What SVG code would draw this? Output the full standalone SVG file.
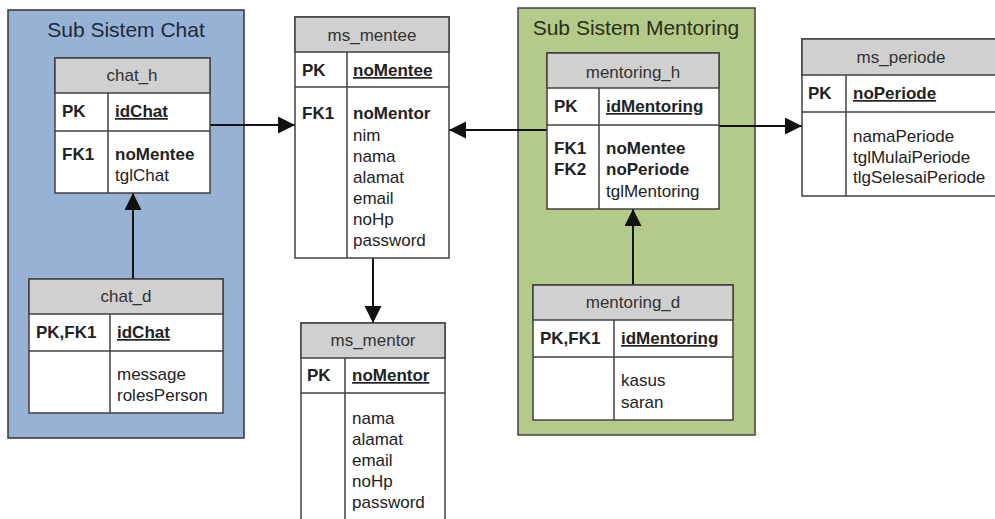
<svg xmlns="http://www.w3.org/2000/svg" width="995" height="519" viewBox="0 0 995 519">
<style>
text{font-family:"Liberation Sans",Arial,sans-serif;font-size:17px;fill:#222}
.title{font-size:21px;fill:#1c2a3a;text-anchor:middle}
.hdr{fill:#333;text-anchor:middle}
.b{font-weight:bold}
.u{font-weight:bold;text-decoration:underline}
.box{fill:#fff;stroke:#404040;stroke-width:1.5}
.head{fill:#d0d0d0;stroke:#404040;stroke-width:1.5}
.ln{stroke:#404040;stroke-width:1.5;fill:none}
.con{stroke:#111;stroke-width:2;fill:none}
</style>
<defs>
<marker id="arr" markerWidth="18" markerHeight="18" refX="17" refY="8.5" orient="auto" markerUnits="userSpaceOnUse">
<path d="M0,0 L17,8.5 L0,17 Z" fill="#111"/>
</marker>
</defs>

<g id="sub_chat">
<rect x="8" y="10" width="236" height="428" fill="#97b2d5" stroke="#333" stroke-width="1.5"/>
<text class="title" x="126" y="37">Sub Sistem Chat</text>
</g>
<g id="sub_mentoring">
<rect x="518" y="8" width="237" height="427" fill="#b4ca88" stroke="#404040" stroke-width="1.5"/>
<text class="title" x="636" y="35" style="fill:#26301a">Sub Sistem Mentoring</text>
</g>

<g id="connectors">
<line class="con" x1="210" y1="125" x2="295" y2="125" marker-end="url(#arr)"/>
<line class="con" x1="133" y1="279" x2="133" y2="193" marker-end="url(#arr)"/>
<line class="con" x1="547" y1="130" x2="449" y2="130" marker-end="url(#arr)"/>
<line class="con" x1="373" y1="258" x2="373" y2="323" marker-end="url(#arr)"/>
<line class="con" x1="719" y1="126" x2="802" y2="126" marker-end="url(#arr)"/>
<line class="con" x1="633" y1="285" x2="633" y2="209" marker-end="url(#arr)"/>
</g>

<g id="chat_h">
<rect class="box" x="55" y="58" width="155" height="135"/>
<rect class="head" x="55" y="58" width="155" height="35"/>
<line class="ln" x1="55" y1="131" x2="210" y2="131"/>
<line class="ln" x1="108" y1="93" x2="108" y2="193"/>
<text class="hdr" x="132" y="81">chat_h</text>
<text class="b" x="62" y="117">PK</text>
<text class="u" x="115" y="117">idChat</text>
<text class="b" x="62" y="160">FK1</text>
<text class="b" x="115" y="160">noMentee</text>
<text x="115" y="181">tglChat</text>
</g>

<g id="chat_d">
<rect class="box" x="29" y="279" width="194" height="134"/>
<rect class="head" x="29" y="279" width="194" height="35"/>
<line class="ln" x1="29" y1="351" x2="223" y2="351"/>
<line class="ln" x1="110" y1="314" x2="110" y2="413"/>
<text class="hdr" x="126" y="302">chat_d</text>
<text class="b" x="36" y="338">PK,FK1</text>
<text class="u" x="117" y="338">idChat</text>
<text x="117" y="380">message</text>
<text x="117" y="401">rolesPerson</text>
</g>

<g id="ms_mentee">
<rect class="box" x="295" y="17" width="154" height="241"/>
<rect class="head" x="295" y="17" width="154" height="35"/>
<line class="ln" x1="295" y1="87" x2="449" y2="87"/>
<line class="ln" x1="347" y1="52" x2="347" y2="258"/>
<text class="hdr" x="372" y="41">ms_mentee</text>
<text class="b" x="302" y="76">PK</text>
<text class="u" x="353" y="76">noMentee</text>
<text class="b" x="302" y="119">FK1</text>
<text class="b" x="353" y="119">noMentor</text>
<text x="353" y="141">nim</text>
<text x="353" y="162">nama</text>
<text x="353" y="183">alamat</text>
<text x="353" y="204">email</text>
<text x="353" y="225">noHp</text>
<text x="353" y="246">password</text>
</g>

<g id="ms_mentor">
<rect class="box" x="301" y="323" width="144" height="210"/>
<rect class="head" x="301" y="323" width="144" height="35"/>
<line class="ln" x1="301" y1="393" x2="445" y2="393"/>
<line class="ln" x1="345" y1="358" x2="345" y2="533"/>
<text class="hdr" x="373" y="346">ms_mentor</text>
<text class="b" x="307" y="381">PK</text>
<text class="u" x="352" y="381">noMentor</text>
<text x="352" y="424">nama</text>
<text x="352" y="445">alamat</text>
<text x="352" y="466">email</text>
<text x="352" y="487">noHp</text>
<text x="352" y="508">password</text>
</g>

<g id="mentoring_h">
<rect class="box" x="547" y="53" width="172" height="156"/>
<rect class="head" x="547" y="53" width="172" height="35"/>
<line class="ln" x1="547" y1="125" x2="719" y2="125"/>
<line class="ln" x1="599" y1="88" x2="599" y2="209"/>
<text class="hdr" x="633" y="78">mentoring_h</text>
<text class="b" x="554" y="112">PK</text>
<text class="u" x="606" y="112">idMentoring</text>
<text class="b" x="554" y="154">FK1</text>
<text class="b" x="606" y="154">noMentee</text>
<text class="b" x="554" y="175">FK2</text>
<text class="b" x="606" y="175">noPeriode</text>
<text x="606" y="197">tglMentoring</text>
</g>

<g id="mentoring_d">
<rect class="box" x="533" y="285" width="200" height="135"/>
<rect class="head" x="533" y="285" width="200" height="35"/>
<line class="ln" x1="533" y1="357" x2="733" y2="357"/>
<line class="ln" x1="614" y1="320" x2="614" y2="420"/>
<text class="hdr" x="633" y="308">mentoring_d</text>
<text class="b" x="540" y="344">PK,FK1</text>
<text class="u" x="621" y="344">idMentoring</text>
<text x="621" y="386">kasus</text>
<text x="621" y="408">saran</text>
</g>

<g id="ms_periode">
<rect class="box" x="802" y="39" width="200" height="157"/>
<rect class="head" x="802" y="39" width="200" height="36"/>
<line class="ln" x1="802" y1="112" x2="1002" y2="112"/>
<line class="ln" x1="846" y1="75" x2="846" y2="196"/>
<text class="hdr" x="901" y="63">ms_periode</text>
<text class="b" x="808" y="99">PK</text>
<text class="u" x="853" y="99">noPeriode</text>
<text x="853" y="142">namaPeriode</text>
<text x="853" y="163">tglMulaiPeriode</text>
<text x="853" y="183">tlgSelesaiPeriode</text>
</g>
</svg>
